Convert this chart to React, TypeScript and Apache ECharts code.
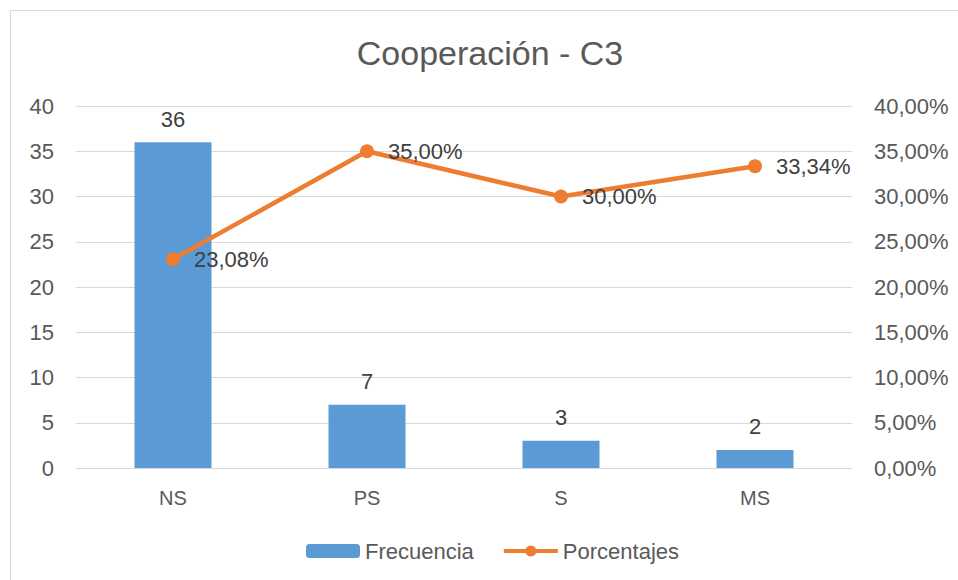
import React, { useEffect, useRef } from "react";
import * as echarts from "echarts";

const categories = ["NS", "PS", "S", "MS"];
const frecuencia = [36, 7, 3, 2];
const porcentajes = [0.2308, 0.35, 0.3, 0.3334];
const titleText = "Cooperación - C3";

const FONT = "Liberation Sans";
const TEXT = "#595959";
const LABEL = "#404040";

const fmtPct = (v: number) => (v * 100).toFixed(2).replace(".", ",") + "%";

export default function App() {
  const ref = useRef<HTMLDivElement>(null);
  useEffect(() => {
    document.body.style.margin = "0";
    const chart = echarts.init(ref.current!, null, { renderer: "svg" });
    chart.setOption({
      animation: false,
      backgroundColor: "#ffffff",
      textStyle: { fontFamily: FONT },
      title: {
        text: titleText,
        left: 485,
        top: 31,
        textAlign: "center",
        textStyle: { fontFamily: FONT, fontSize: 34, fontWeight: "normal", color: TEXT },
      },
      graphic: [
        {
          type: "rect",
          shape: { x: 10.5, y: 10.5, width: 1000, height: 1000 },
          style: { fill: "none", stroke: "#d9d9d9", lineWidth: 1 },
          silent: true,
        },
      ],
      legend: {
        left: 301,
        top: 535,
        itemWidth: 54,
        itemHeight: 14,
        itemGap: 28,
        textStyle: { fontFamily: FONT, fontSize: 22, color: TEXT },
        data: [
          { name: "Frecuencia" },
          { name: "Porcentajes", lineStyle: { width: 4 } },
        ],
      },
      grid: { left: 76, right: 106, top: 106, bottom: 112 },
      xAxis: {
        type: "category",
        data: categories,
        axisLine: { lineStyle: { color: "#d9d9d9", width: 1 } },
        axisTick: { show: false },
        axisLabel: { fontFamily: FONT, fontSize: 20, color: TEXT, margin: 20 },
      },
      yAxis: [
        {
          type: "value",
          min: 0,
          max: 40,
          interval: 5,
          axisLine: { show: false },
          axisTick: { show: false },
          splitLine: { lineStyle: { color: "#d9d9d9", width: 1 } },
          axisLabel: { fontFamily: FONT, fontSize: 22, color: TEXT, margin: 22 },
        },
        {
          type: "value",
          min: 0,
          max: 0.4,
          interval: 0.05,
          axisLine: { show: false },
          axisTick: { show: false },
          splitLine: { show: false },
          axisLabel: {
            fontFamily: FONT,
            fontSize: 22,
            color: TEXT,
            margin: 22,
            formatter: (v: number) => fmtPct(v),
          },
        },
      ],
      series: [
        {
          name: "Frecuencia",
          type: "bar",
          data: frecuencia,
          barWidth: 77,
          itemStyle: { color: "#5B9BD5" },
          label: {
            show: true,
            position: "top",
            distance: 12,
            fontFamily: FONT,
            fontSize: 22,
            color: LABEL,
          },
        },
        {
          name: "Porcentajes",
          type: "line",
          yAxisIndex: 1,
          data: porcentajes,
          symbol: "circle",
          symbolSize: 14,
          lineStyle: { color: "#ED7D31", width: 4.5 },
          itemStyle: { color: "#ED7D31" },
          label: {
            show: true,
            position: "right",
            distance: 14,
            fontFamily: FONT,
            fontSize: 22,
            color: LABEL,
            formatter: (p: any) => fmtPct(p.value),
          },
        },
      ],
    });
    return () => chart.dispose();
  }, []);
  return <div ref={ref} style={{ width: 958, height: 580 }} />;
}
